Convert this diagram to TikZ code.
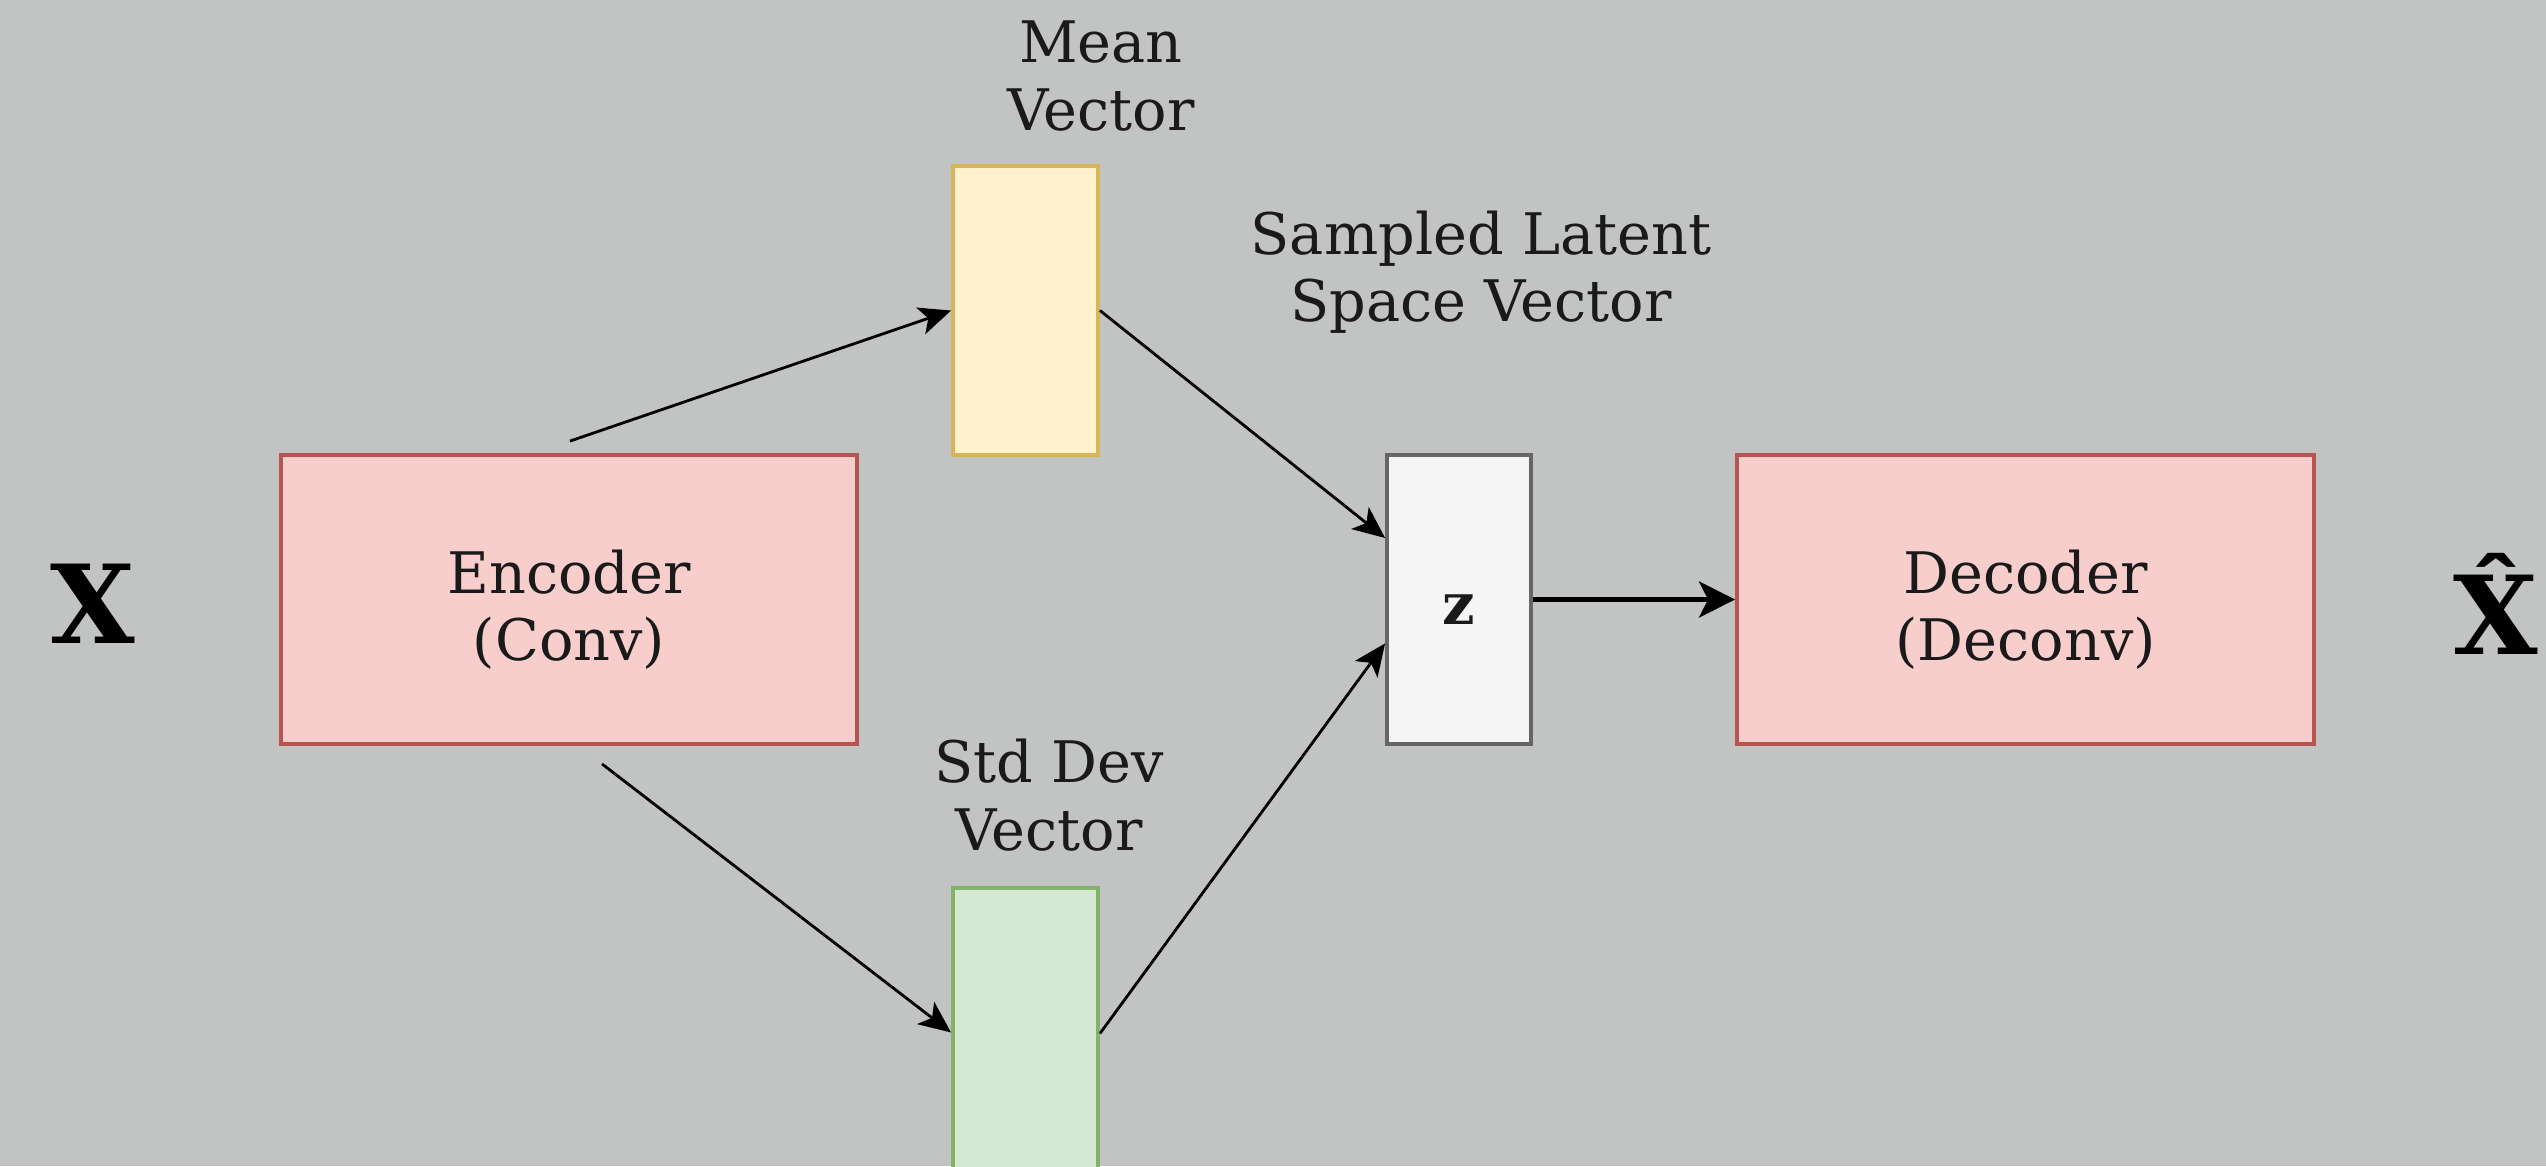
\documentclass[tikz,border=0pt]{standalone}
\usepackage{fontspec}
\setmainfont{DejaVu Serif}
\usetikzlibrary{arrows.meta,calc}
\definecolor{bg}{RGB}{194,196,195}
\definecolor{redfill}{HTML}{F8CECC}
\definecolor{redline}{HTML}{B85450}
\definecolor{yelfill}{HTML}{FFF2CC}
\definecolor{yelline}{HTML}{D6B656}
\definecolor{grnfill}{HTML}{D5E8D4}
\definecolor{grnline}{HTML}{82B366}
\definecolor{gryfill}{HTML}{F5F5F5}
\definecolor{gryline}{HTML}{666666}
\definecolor{txt}{HTML}{1A1A1A}
\tikzset{
  lbl/.style={align=center, text=txt, inner sep=0pt, font=\fontsize{16.3}{19.2}\selectfont},
  box/.style={draw, line width=1.1pt, minimum width=#1, minimum height=2.89cm, inner sep=0pt},
  inlbl/.style={label={[lbl, yshift=-0.1cm]center:#1}},
  big/.style={inner sep=0pt, font=\fontsize{31}{36}\selectfont\bfseries},
  conn/.style={line width=0.8pt, -{Stealth[length=0.32cm, width=0.28cm, inset=0.08cm]}},
  thick conn/.style={line width=1.5pt, -{Stealth[length=0.36cm, width=0.36cm, inset=0.09cm]}}
}
\begin{document}
\begin{tikzpicture}
\fill[bg] (0,0) rectangle (25.46,-11.66);
\useasboundingbox (0,0) rectangle (25.46,-11.66);
\node[big] (x) at (0.93,-6.04) {X};
\node[box=5.76cm, fill=redfill, draw=redline, inlbl={Encoder\\(Conv)}] (enc) at (5.69,-5.995) {};
\node[box=1.45cm, fill=yelfill, draw=yelline] (mean) at (10.255,-3.105) {};
\node[box=1.45cm, fill=grnfill, draw=grnline] (std) at (10.255,-10.325) {};
\node[box=1.44cm, fill=gryfill, draw=gryline, inlbl={\textbf{z}}] (z) at (14.59,-5.995) {};
\node[box=5.77cm, fill=redfill, draw=redline, inlbl={Decoder\\(Deconv)}] (dec) at (20.255,-5.995) {};
\node[big] (xhat) at (24.96,-6.04) {\^{X}};
\node[lbl] (meanl) at (11.01,-0.76) {Mean\\Vector};
\node[lbl] (sampl) at (14.81,-2.72) {Sampled Latent\\Space Vector};
\node[lbl] (stdl) at (10.49,-7.95) {Std Dev\\Vector};
\coordinate (e1) at ($(enc.north)+(0.01,0.12)$);
\coordinate (e2) at ($(enc.south)+(0.33,-0.18)$);
\coordinate (z1) at ($(z.north west)!0.29!(z.south west)$);
\coordinate (z2) at ($(z.north west)!0.65!(z.south west)$);
\draw[conn] (e1) -- (mean.west);
\draw[conn] (e2) -- (std.west);
\draw[conn] (mean.east) -- (z1);
\draw[conn] ($(std.east)+(0,-0.01)$) -- (z2);
\draw[thick conn] (z.east) -- (dec.west);
\end{tikzpicture}
\end{document}
